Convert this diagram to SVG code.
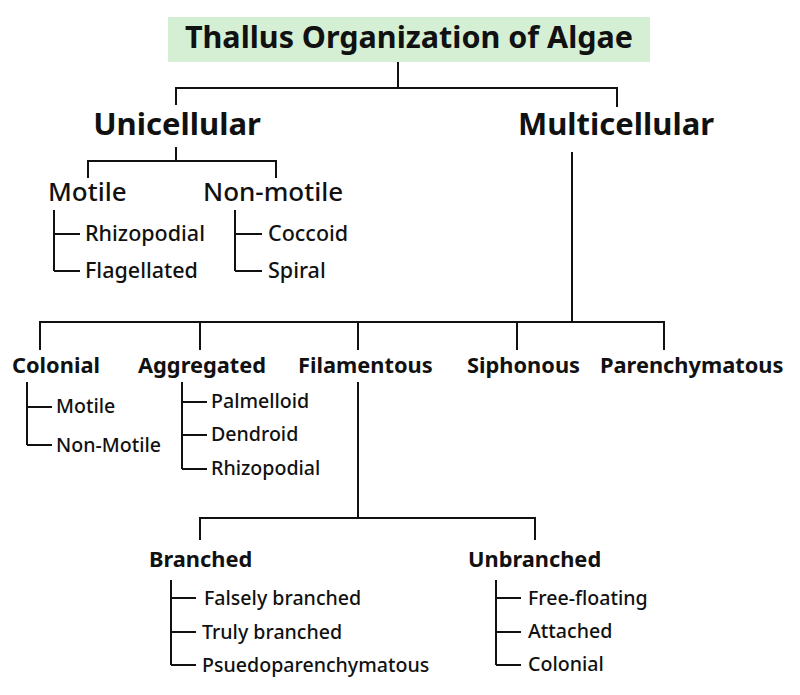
<svg xmlns="http://www.w3.org/2000/svg" width="800" height="695" viewBox="0 0 800 695">
<style>
text{font-family:"Noto Sans","Open Sans",sans-serif;fill:#111}
.t{font-size:30.5px;font-weight:bold}
.h1{font-size:31px;font-weight:bold}
.h2{font-size:26px;font-weight:500}
.h3{font-size:21.8px;font-weight:bold}
.s{font-size:21.5px;font-weight:500}
.s2{font-size:19.6px;font-weight:500}
#connectors path{stroke:#111;stroke-width:2;fill:none}
</style>
<rect width="800" height="695" fill="#fff"/>
<g id="connectors">
<path d="M398 62V88M176 105V88H617V107"/>
<path d="M176 147V161M88 178V161H276V178"/>
<path d="M54 210V271M54 234H80M54 271H80"/>
<path d="M235 210V271M235 234H262M235 271H262"/>
<path d="M572 152V322M40 350V322H664V350M200 322V350M358 322V350M517 322V350"/>
<path d="M27 382V445M27 407H52M27 445H52"/>
<path d="M182 382V469M182 402H207M182 435H207M182 469H207"/>
<path d="M358 382V518M200 540V518H535V540"/>
<path d="M171 580V665M171 598H196M171 632H196M171 665H196"/>
<path d="M496 580V665M496 598H521M496 632H521M496 665H521"/>
</g>
<g id="title"><rect x="168" y="17" width="482" height="45" fill="#d4efd4"/><text class="t" x="409" y="48" text-anchor="middle">Thallus Organization of Algae</text></g>
<g id="uni"><text class="h1" x="177" y="135" text-anchor="middle">Unicellular</text></g>
<g id="multi"><text class="h1" x="616" y="135" text-anchor="middle">Multicellular</text></g>
<g id="motile"><text class="h2" x="48" y="201">Motile</text></g>
<g id="nonmotile"><text class="h2" x="203" y="201">Non-motile</text></g>
<g id="m-sub"><text class="s" x="85" y="241">Rhizopodial</text><text class="s" x="85" y="278">Flagellated</text></g>
<g id="nm-sub"><text class="s" x="268" y="241">Coccoid</text><text class="s" x="268" y="278">Spiral</text></g>
<g id="colonial"><text class="h3" x="12" y="373">Colonial</text></g>
<g id="aggregated"><text class="h3" x="138" y="373">Aggregated</text></g>
<g id="filamentous"><text class="h3" x="298" y="373">Filamentous</text></g>
<g id="siphonous"><text class="h3" x="467" y="373">Siphonous</text></g>
<g id="parenchymatous"><text class="h3" x="600" y="373">Parenchymatous</text></g>
<g id="col-sub"><text class="s2" x="56" y="413">Motile</text><text class="s2" x="56" y="452">Non-Motile</text></g>
<g id="agg-sub"><text class="s2" x="211" y="408">Palmelloid</text><text class="s2" x="211" y="441">Dendroid</text><text class="s2" x="211" y="475">Rhizopodial</text></g>
<g id="branched"><text class="h3" x="149" y="567">Branched</text></g>
<g id="unbranched"><text class="h3" x="468" y="567">Unbranched</text></g>
<g id="br-sub"><text class="s2" x="204" y="605">Falsely branched</text><text class="s2" x="202" y="639">Truly branched</text><text class="s2" x="202" y="672">Psuedoparenchymatous</text></g>
<g id="ub-sub"><text class="s2" x="528" y="605">Free-floating</text><text class="s2" x="528" y="638">Attached</text><text class="s2" x="528" y="671">Colonial</text></g>
</svg>
